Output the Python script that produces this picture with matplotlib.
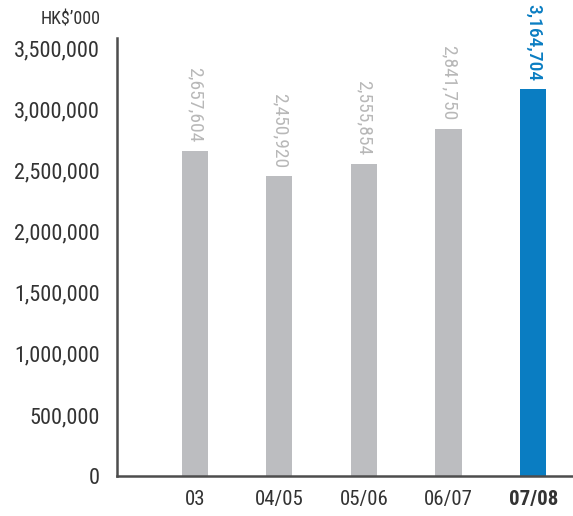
import matplotlib.pyplot as plt
from matplotlib import font_manager

periods = ['03', '04/05', '05/06', '06/07', '07/08']
values = [2657604, 2450920, 2555854, 2841750, 3164704]
yticks = [0, 500000, 1000000, 1500000, 2000000, 2500000, 3000000, 3500000]

# narrow face for all labels, first one that is installed
names = {f.name for f in font_manager.fontManager.ttflist}
font = next((n for n in ['Roboto Condensed', 'Archivo Narrow', 'Liberation Sans Narrow',
                         'Barlow Semi Condensed', 'DejaVu Sans'] if n in names), 'DejaVu Sans')
plt.rcParams['font.family'] = [font, 'DejaVu Sans']

grey = '#bcbdc0'
blue = '#0a7dc2'
colors = [grey] * (len(values) - 1) + [blue]

fig = plt.figure(figsize=(5.73, 5.16), dpi=100)
ax = fig.add_axes([0.204, 0.077, 0.796, 0.849])

x = range(len(values))
ax.bar(x, values, width=0.31, color=colors)

for i, v in enumerate(values):
    last = i == len(values) - 1
    ax.annotate(f'{v:,}', (i, v), xytext=(0, 6), textcoords='offset points',
                rotation=-90, ha='center', va='bottom', fontsize=14,
                color=blue if last else '#b8b8b8',
                fontweight='medium' if last else 'normal')

ax.set_xlim(-0.92, 4.47)
ax.set_ylim(0, 3580000)
ax.set_yticks(yticks)
ax.set_yticklabels([f'{t:,}' for t in yticks], fontsize=16, color='#333333')
ax.set_xticks(list(x))
ax.set_xticklabels(periods, fontsize=15, color='#333333')
ax.get_xticklabels()[-1].set_fontweight('bold')
ax.tick_params(length=0)
ax.tick_params(axis='y', pad=12)
ax.tick_params(axis='x', pad=10)

for s in ['top', 'right']:
    ax.spines[s].set_visible(False)
for s in ['left', 'bottom']:
    ax.spines[s].set_color('#4d4d4d')
    ax.spines[s].set_linewidth(1.8)

fig.text(0.175, 0.962, "HK$\u2019000", ha='right', va='center', fontsize=13,
         color='#333333')

fig.savefig('out.png', dpi=100)
